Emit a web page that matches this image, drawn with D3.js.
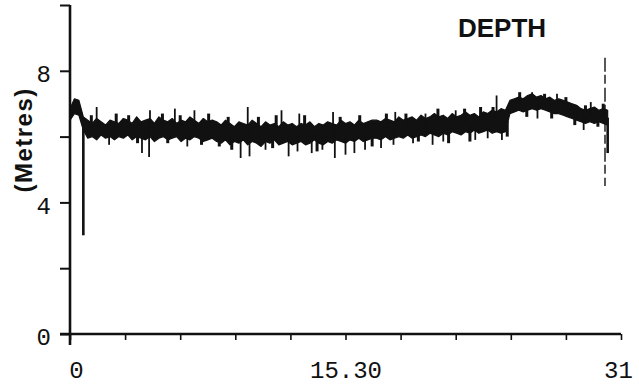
<!DOCTYPE html>
<html>
<head>
<meta charset="utf-8">
<script src="https://cdn.jsdelivr.net/npm/d3@7"></script>
<style>
  html, body { margin: 0; padding: 0; background: #fff; }
  svg { display: block; }
</style>
</head>
<body>
<div id="chart"></div>
<script>
// ---- data ----
const T_STEP = 0.25; // sampling of the envelope, x units
// upper / lower edge of the noisy depth trace (metres), t = 0 .. 30.25
const upper = [
  6.85, 7.15, 7.1, 6.6,
  6.5, 6.4, 6.55, 6.45, 6.35, 6.5, 6.45, 6.4,
  6.55, 6.5, 6.4, 6.6, 6.45, 6.5, 6.55, 6.4,
  6.6, 6.5, 6.45, 6.55, 6.4, 6.5, 6.45, 6.6,
  6.5, 6.4, 6.55, 6.45, 6.5,
  6.45, 6.35, 6.5, 6.4, 6.3, 6.45, 6.4, 6.35,
  6.5, 6.4, 6.3, 6.45, 6.35, 6.4, 6.3, 6.45,
  6.35, 6.4, 6.3, 6.4, 6.35, 6.45, 6.3, 6.4,
  6.35, 6.45, 6.4, 6.35, 6.5, 6.4, 6.45, 6.35,
  6.5, 6.4, 6.45, 6.5,
  6.5, 6.45, 6.55, 6.5, 6.45, 6.6, 6.5, 6.55,
  6.6, 6.5, 6.65, 6.55, 6.6, 6.7, 6.6, 6.65,
  6.55, 6.7, 6.6, 6.65, 6.75, 6.65, 6.7, 6.6,
  6.75, 6.7, 6.8, 6.75,
  6.85, 6.8, 7.1,
  7.15, 7.2, 7.15, 7.25, 7.3, 7.2, 7.25, 7.15,
  7.2, 7.1, 7.15, 7.1, 7.05, 7.0, 6.95, 6.85,
  6.8, 6.85, 6.9, 6.8, 6.85, 6.8,
];
const lower = [
  6.5, 6.7, 6.65, 6.2,
  5.95, 6.0, 5.9, 6.05, 5.95, 6.0, 5.9, 6.0,
  5.95, 6.05, 5.9, 6.0, 5.95, 5.9, 6.0, 5.85,
  5.95, 6.0, 5.9, 5.95, 6.0, 5.85, 5.95, 5.9,
  6.0, 5.95, 5.85, 5.9, 5.95,
  5.85, 5.8, 5.9, 5.75, 5.85, 5.8, 5.9, 5.75,
  5.85, 5.8, 5.7, 5.85, 5.8, 5.9, 5.75, 5.8,
  5.85, 5.75, 5.8, 5.85, 5.75, 5.8, 5.9, 5.8,
  5.75, 5.85, 5.8, 5.9, 5.85, 5.8, 5.9, 5.85,
  5.95, 5.85, 5.9, 5.95,
  5.95, 5.9, 6.0, 5.9, 5.95, 6.0, 5.95, 6.05,
  5.95, 6.0, 6.05, 6.0, 6.1, 6.05, 6.0, 6.1,
  6.05, 6.15, 6.1, 6.05, 6.15, 6.1, 6.2, 6.1,
  6.15, 6.2, 6.1, 6.15,
  6.1, 6.15, 6.7,
  6.75, 6.8, 6.75, 6.8, 6.85, 6.8, 6.85, 6.8,
  6.75, 6.7, 6.7, 6.65, 6.6, 6.55, 6.5, 6.45,
  6.4, 6.45, 6.4, 6.45, 6.4, 6.35,
];
// longer excursions out of the band: [t, metres]
const spikes = [
  [2.2, 5.75], [4.05, 5.5], [4.45, 5.38], [6.6, 5.7], [9.6, 5.35],
  [10.1, 5.4], [11.0, 5.6], [12.3, 5.4], [12.8, 5.55], [13.6, 5.5],
  [14.2, 5.6], [14.9, 5.35], [15.5, 5.45], [16.0, 5.5], [16.6, 5.6],
  [17.5, 5.65], [18.2, 5.75], [19.3, 5.8], [20.4, 5.75], [21.0, 5.85],
  [22.8, 5.9], [23.5, 5.95], [24.3, 5.9], [26.3, 6.55], [28.9, 6.2],
  [1.5, 6.9], [4.5, 6.8], [5.9, 6.85], [7.0, 6.8], [10.0, 6.9],
  [11.9, 6.8], [12.9, 6.7], [14.8, 6.75], [18.3, 6.75], [20.0, 6.7],
  [21.7, 6.8], [24.0, 7.25], [26.0, 7.35], [27.4, 7.3], [29.3, 7.05],
];
// short ragged bits along the band edges: [t, metres]
const flicks = [
  [1.2, 6.65], [2.6, 6.7], [3.3, 6.65], [3.8, 5.8], [5.2, 6.7],
  [5.5, 5.8], [6.2, 6.65], [7.4, 5.75], [7.8, 6.7], [8.4, 5.7],
  [8.9, 6.6], [9.1, 5.6], [10.6, 6.6], [11.4, 5.65], [11.6, 6.65],
  [13.2, 6.65], [13.9, 5.55], [15.2, 6.6], [16.3, 6.65], [17.0, 5.7],
  [17.8, 6.7], [18.9, 6.7], [19.6, 5.85], [20.7, 6.85], [21.3, 5.8],
  [22.2, 6.85], [22.5, 5.85], [23.1, 6.9], [23.8, 6.9], [24.6, 6.0],
  [25.3, 7.35], [25.7, 6.6], [26.7, 7.3], [27.1, 6.55], [27.9, 7.2],
  [28.4, 6.35], [29.0, 6.95], [29.7, 6.3], [30.0, 7.0],
];
// the two big dropouts at start and end of the record
const dropouts = [[0.75, 3.0], [30.25, 5.5]];
// dashed end-of-record marker
const markerT = 30.1;
const markerRange = [4.5, 8.4];

const yTicks = [0, 2, 4, 6, 8, 10];
const yLabels = { 0: "0", 4: "4", 8: "8" };
const xTicks = [0, 3.1, 6.2, 9.3, 12.4, 15.5, 18.6, 21.7, 24.8, 27.9, 31];
const xLabels = { 0: "0", 15.5: "15.30", 31: "31" };

// ---- layout ----
const width = 639;
const height = 392;
const INK = "#111";

const x = d3.scaleLinear().domain([0, 31]).range([70, 621]);
const y = d3.scaleLinear().domain([0, 10]).range([334, 5]);

const svg = d3.select("#chart")
  .append("svg")
  .attr("width", width)
  .attr("height", height);

svg.append("rect").attr("width", width).attr("height", height).attr("fill", "#fff");

// ---- axes ----
const yAxis = svg.append("g")
  .attr("transform", `translate(${x(0)},0)`)
  .call(d3.axisLeft(y)
    .tickValues(yTicks)
    .tickSize(10)
    .tickPadding(9)
    .tickFormat((d) => yLabels[d] ?? ""));
yAxis.select(".domain").remove();
yAxis.selectAll(".tick line").attr("stroke", INK).attr("stroke-width", 2);
yAxis.selectAll("text")
  .attr("font-family", "'Liberation Mono', monospace")
  .attr("font-size", 24)
  .attr("dy", "0.45em")
  .attr("fill", INK);

const xAxis = svg.append("g")
  .attr("transform", `translate(0,${y(0)})`)
  .call(d3.axisBottom(x)
    .tickValues(xTicks)
    .tickSize(6)
    .tickPadding(21)
    .tickFormat((d) => xLabels[d] ?? ""));
xAxis.select(".domain").remove();
xAxis.selectAll(".tick line").attr("stroke", INK).attr("stroke-width", 1.6);
xAxis.selectAll("text")
  .attr("font-family", "'Liberation Mono', monospace")
  .attr("font-size", 24)
  .attr("fill", INK)
  .attr("dx", (d) => (d === 0 ? 6 : d === 31 ? -3 : 0));

// axis lines (y axis runs a little below zero, x axis a little left of it)
svg.append("line")
  .attr("x1", x(0)).attr("x2", x(0))
  .attr("y1", y(10)).attr("y2", y(0) + 11)
  .attr("stroke", INK).attr("stroke-width", 2.6);
svg.append("line")
  .attr("x1", x(0) - 10).attr("x2", x(31))
  .attr("y1", y(0)).attr("y2", y(0))
  .attr("stroke", INK).attr("stroke-width", 2.6);

// ---- the depth trace ----
const n = Math.min(upper.length, lower.length);
const band = d3.range(n).map((i) => ({ t: i * T_STEP, hi: upper[i], lo: lower[i] }));
const midAt = (t) => {
  const i = Math.max(0, Math.min(n - 1, Math.round(t / T_STEP)));
  return (upper[i] + lower[i]) / 2;
};

svg.append("path")
  .datum(band)
  .attr("d", d3.area()
    .x((d) => x(d.t))
    .y0((d) => y(d.lo))
    .y1((d) => y(d.hi)))
  .attr("fill", INK)
  .attr("stroke", INK)
  .attr("stroke-width", 1.2)
  .attr("stroke-linejoin", "round");

const vertical = (sel, width) => sel
  .attr("x1", (d) => x(d[0]))
  .attr("x2", (d) => x(d[0]))
  .attr("y1", (d) => y(midAt(d[0])))
  .attr("y2", (d) => y(d[1]))
  .attr("stroke", INK)
  .attr("stroke-width", width);

svg.append("g").selectAll("line").data(flicks).join("line").call(vertical, 3);
svg.append("g").selectAll("line").data(spikes).join("line").call(vertical, 1.8);
svg.append("g").selectAll("line").data(dropouts).join("line").call(vertical, 2.6);

svg.append("line")
  .attr("x1", x(markerT)).attr("x2", x(markerT))
  .attr("y1", y(markerRange[1])).attr("y2", y(markerRange[0]))
  .attr("stroke", INK)
  .attr("stroke-width", 1.4)
  .attr("stroke-dasharray", "14,3,9,4");

// ---- titles ----
svg.append("text")
  .attr("x", 458)
  .attr("y", 37)
  .attr("font-family", "'Liberation Sans', Arial, sans-serif")
  .attr("font-weight", 700)
  .attr("font-size", 26)
  .attr("fill", INK)
  .text("DEPTH");

svg.append("text")
  .attr("transform", `translate(32,${y(5.9)}) rotate(-90)`)
  .attr("text-anchor", "middle")
  .attr("font-family", "'Liberation Sans', Arial, sans-serif")
  .attr("font-weight", 700)
  .attr("font-size", 24)
  .attr("letter-spacing", 1.5)
  .attr("fill", INK)
  .text("(Metres)");
</script>
</body>
</html>
